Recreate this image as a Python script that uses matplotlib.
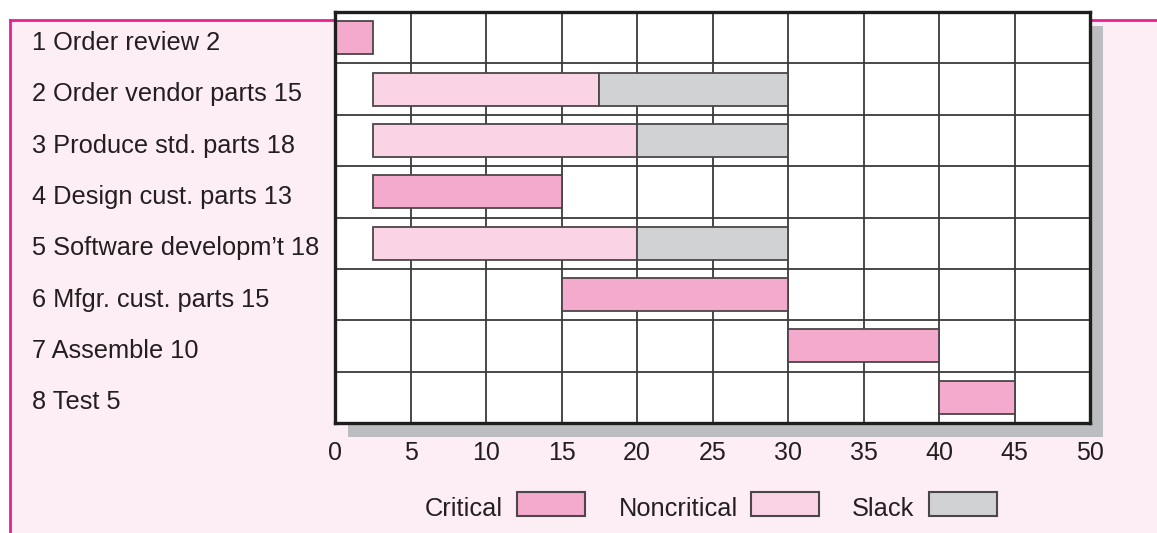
import matplotlib
matplotlib.use("Agg")
import matplotlib.pyplot as plt
from matplotlib.patches import Rectangle
from matplotlib.lines import Line2D
import matplotlib.transforms as mtransforms

# Project activities (name, duration in weeks)
tasks = ["Order review", "Order vendor parts", "Produce std. parts",
         "Design cust. parts", "Software developm\u2019t", "Mfgr. cust. parts",
         "Assemble", "Test"]
durations = [2, 15, 18, 13, 18, 15, 10, 5]

# Scheduled bars (weeks)
starts = [0, 2.5, 2.5, 2.5, 2.5, 15, 30, 40]
finishes = [2.5, 17.5, 20, 15, 20, 30, 40, 45]
critical = [True, False, False, True, False, True, True, True]
slack_end = [None, 30, 30, None, 30, None, None, None]

x_ticks = [0, 5, 10, 15, 20, 25, 30, 35, 40, 45, 50]

C_CRIT = "#f4aacd"
C_NONCRIT = "#fad3e5"
C_SLACK = "#d1d2d4"
C_EDGE = "#4b4649"
C_PANEL = "#fdedf4"
C_MAGENTA = "#ec1e92"
C_SHADOW = "#bcbdc0"
C_TEXT = "#231f20"

plt.rcParams["font.family"] = ["Liberation Sans", "DejaVu Sans"]

W, H = 1157, 533
fig = plt.figure(figsize=(W / 100, H / 100), dpi=100)
fig.patch.set_facecolor("white")


def px(x, y):
    """Pixel position (from top-left) to figure fraction."""
    return x / W, 1 - y / H


# Pink panel with magenta rules on the left and top
x0, y0 = px(10, 20)
fig.add_artist(Rectangle((x0, 0), 1 - x0, y0, transform=fig.transFigure,
                         facecolor=C_PANEL, edgecolor="none", zorder=-3))
fig.add_artist(Line2D([x0, 1], [y0, y0], transform=fig.transFigure,
                      color=C_MAGENTA, lw=2.0, zorder=-2))
fig.add_artist(Line2D([x0, x0], [0, y0], transform=fig.transFigure,
                      color=C_MAGENTA, lw=2.0, zorder=-2))

# Chart area
L, R, T, B = 335, 1090, 12, 423
ax = fig.add_axes([L / W, 1 - B / H, (R - L) / W, (B - T) / H])
ax.set_facecolor("white")

# Drop shadow behind the chart
sx, sy = 13, 14
fig.add_artist(Rectangle(px(L + sx, B + sy), (R - L) / W, (B - T) / H,
                         transform=fig.transFigure, facecolor=C_SHADOW,
                         edgecolor="none", zorder=-1))

n = len(tasks)
rows = list(range(n))
bar_h = 0.64

for i in rows:
    color = C_CRIT if critical[i] else C_NONCRIT
    ax.barh(i, finishes[i] - starts[i], left=starts[i], height=bar_h,
            color=color, edgecolor=C_EDGE, linewidth=1.3, zorder=3)
    if slack_end[i] is not None:
        ax.barh(i, slack_end[i] - finishes[i], left=finishes[i], height=bar_h,
                color=C_SLACK, edgecolor=C_EDGE, linewidth=1.3, zorder=3)

ax.set_xlim(0, 50)
ax.set_ylim(n - 0.5, -0.5)
ax.set_xticks(x_ticks)
ax.set_xticklabels([str(t) for t in x_ticks], fontsize=18, color=C_TEXT)
ax.set_yticks([])
ax.tick_params(axis="x", length=0, pad=13)

# Grid: every 5 weeks and between activity rows
for t in x_ticks[1:-1]:
    ax.axvline(t, color="#3a3a3a", lw=1.3, zorder=1)
for k in range(1, n):
    ax.axhline(k - 0.5, color="#3a3a3a", lw=1.3, zorder=1)

for s in ax.spines.values():
    s.set_linewidth(2.4)
    s.set_color("#1e1e1e")
    s.set_zorder(5)

# Activity labels
lab_tr = mtransforms.blended_transform_factory(fig.transFigure, ax.transData)
for i in rows:
    ax.text(32 / W, i + 0.05, f"{i + 1} {tasks[i]} {durations[i]}",
            transform=lab_tr, ha="left", va="center_baseline", fontsize=18.3,
            color=C_TEXT, clip_on=False)

# Legend
legend = [("Critical", C_CRIT, 503, 517),
          ("Noncritical", C_NONCRIT, 738, 751),
          ("Slack", C_SLACK, 914, 929)]
box_w, box_h = 68, 24
for name, col, text_right, box_left in legend:
    tx, ty = px(text_right, 507)
    fig.text(tx, ty, name, ha="right", va="center_baseline", fontsize=18.3,
             color=C_TEXT)
    bx, by = px(box_left, 492 + box_h)
    fig.add_artist(Rectangle((bx, by), box_w / W, box_h / H,
                             transform=fig.transFigure, facecolor=col,
                             edgecolor=C_EDGE, linewidth=1.5))

fig.savefig("out.png", dpi=100, facecolor=fig.get_facecolor())
